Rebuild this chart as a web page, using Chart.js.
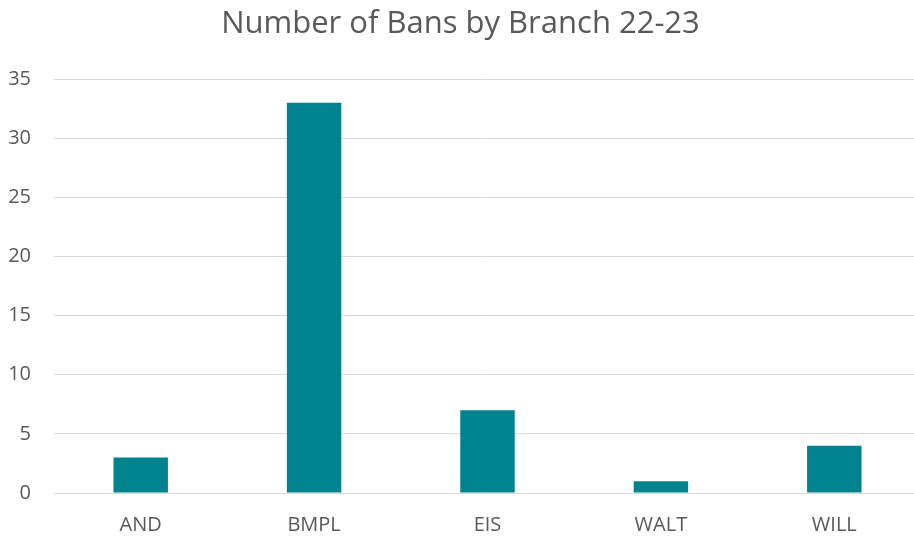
<!DOCTYPE html>
<html>
<head>
<meta charset="utf-8">
<script src="https://cdn.jsdelivr.net/npm/chart.js@4"></script>
<style>
html,body{margin:0;padding:0;background:#fff;overflow:hidden;}
#wrap{position:relative;width:921px;height:536px;}
</style>
</head>
<body>
<div id="wrap"><canvas id="c"></canvas></div>
<script>
const categories = ["AND", "BMPL", "EIS", "WALT", "WILL"];
const bans = [3, 33, 7, 1, 4];
const yTicks = [0, 5, 10, 15, 20, 25, 30, 35];
const chartTitle = "Number of Bans by Branch 22-23";

const FONT = "'Open Sans', sans-serif";
const TEXT = "#595959";
const GRID = "#D9D9D9";

new Chart(document.getElementById('c'), {
  type: 'bar',
  data: {
    labels: categories,
    datasets: [{
      data: bans,
      backgroundColor: '#00838F',
      borderWidth: 0,
      categoryPercentage: 1,
      barPercentage: 0.314
    }]
  },
  options: {
    responsive: true,
    maintainAspectRatio: false,
    animation: false,
    layout: { padding: 0 },
    plugins: {
      legend: { display: false },
      tooltip: { enabled: false },
      title: {
        display: true,
        text: chartTitle,
        color: TEXT,
        font: { family: FONT, size: 31, weight: 'normal' },
        padding: { top: 6, bottom: 36 }
      }
    },
    scales: {
      x: {
        grid: { display: false, drawTicks: false },
        border: { display: false },
        ticks: { color: TEXT, font: { family: FONT, size: 20 }, padding: 20 },
        afterFit: s => { s.height = 43; }
      },
      y: {
        min: 0, max: 35,
        afterBuildTicks: s => { s.ticks = yTicks.map(v => ({ value: v })); },
        grid: { color: GRID, lineWidth: 1, drawTicks: false },
        border: { display: false },
        ticks: { color: TEXT, font: { family: FONT, size: 20 }, padding: 23 },
        afterFit: s => { s.width = 54; }
      }
    }
  }
});
</script>
</body>
</html>
